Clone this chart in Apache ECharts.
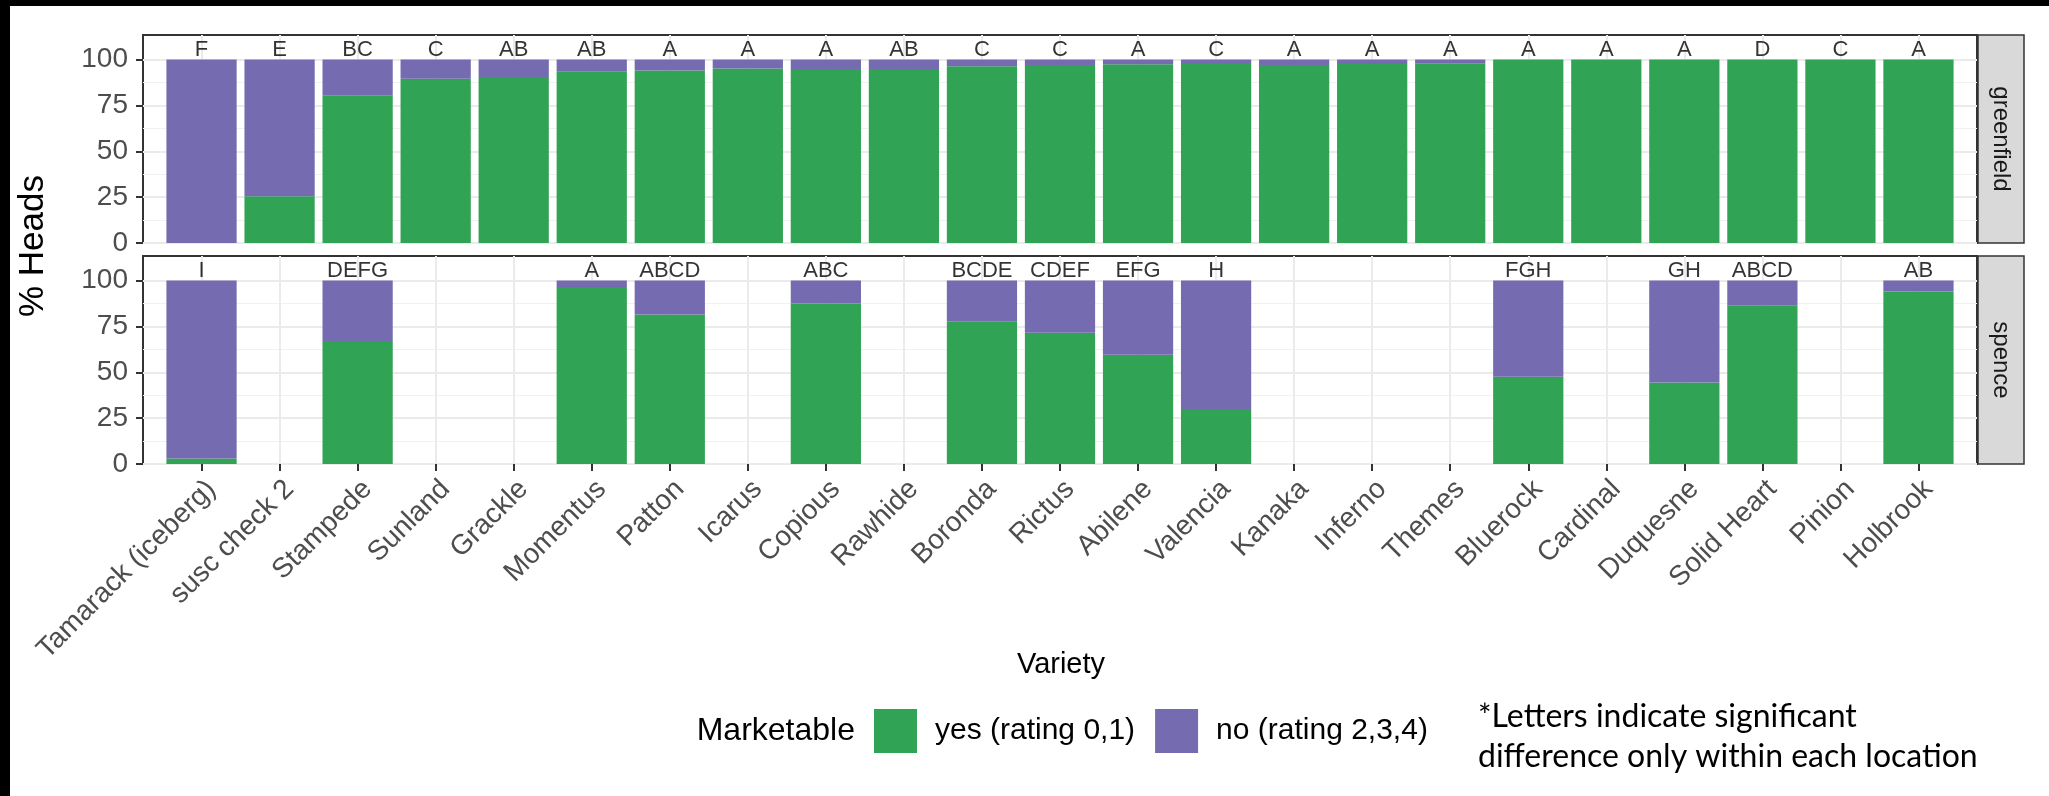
<!DOCTYPE html>
<html><head><meta charset="utf-8">
<script src="https://cdn.jsdelivr.net/npm/echarts@6/dist/echarts.min.js"></script>
<style>html,body{margin:0;padding:0;background:#fff}#c{width:2049px;height:796px}</style>
</head><body><div id="c"></div>
<script>
// ---- data ----
const varieties = ['Tamarack (iceberg)','susc check 2','Stampede','Sunland','Grackle','Momentus','Patton','Icarus','Copious','Rawhide','Boronda','Rictus','Abilene','Valencia','Kanaka','Inferno','Themes','Bluerock','Cardinal','Duquesne','Solid Heart','Pinion','Holbrook'];
const locations = ['greenfield','spence'];
const greenfieldYes = [0, 25.5, 80.5, 89.5, 90.5, 93.3, 94, 95.2, 94.9, 94.9, 96.3, 97, 97.4, 97.6, 97.1, 97.6, 98, 100, 100, 100, 100, 100, 100];
const greenfieldLetters = ['F','E','BC','C','AB','AB','A','A','A','AB','C','C','A','C','A','A','A','A','A','A','D','C','A'];
const spenceYes = [3, null, 67, null, null, 96.5, 81.5, null, 87.5, null, 77.5, 71.5, 59.5, 30, null, null, null, 47.5, null, 44.5, 86.5, null, 94];
const spenceLetters = ['I','','DEFG','','','A','ABCD','','ABC','','BCDE','CDEF','EFG','H','','','','FGH','','GH','ABCD','','AB'];
const yTicks = [0, 25, 50, 75, 100];
const yMinor = [12.5, 37.5, 62.5, 87.5];
const yesName = 'yes (rating 0,1)';
const noName = 'no (rating 2,3,4)';

// ---- layout / style ----
const GREEN = '#31A354', PURPLE = '#756BB1';
const FONT = 'Liberation Sans, Arial, Helvetica, sans-serif';
const panelLeft = 143, panelWidth = 1834, panelTops = [35, 256], panelH = 208;
const xMin = -0.75, xMax = 22.75, yMax = 113.4, labelY = 105, barFrac = 0.9;
const idx = varieties.map((_, i) => i);

const panels = [
  {yes: greenfieldYes, letters: greenfieldLetters},
  {yes: spenceYes, letters: spenceLetters}
];

const grid = panelTops.map(t => ({
  left: panelLeft, top: t, width: panelWidth, height: panelH,
  show: true, backgroundColor: '#fff', borderColor: '#333', borderWidth: 2, containLabel: false
}));

const xAxis = panelTops.map((_, g) => ({
  type: 'value', gridIndex: g, min: xMin, max: xMax, position: 'bottom',
  axisLine: {show: false, onZero: false},
  axisTick: {show: g === 1, customValues: idx, length: 7, lineStyle: {color: '#333', width: 2}},
  axisLabel: {show: g === 1, customValues: idx, rotate: 45, margin: 11,
    align: 'right', verticalAlign: 'top',
    formatter: v => varieties[Math.round(v)], fontSize: 28, color: '#4D4D4D', fontFamily: FONT},
  splitLine: {show: true, lineStyle: {color: '#EBEBEB', width: 2}}
}));

const yAxis = [];
panelTops.forEach((_, g) => {
  yAxis.push({
    type: 'value', gridIndex: g, min: 0, max: yMax, position: 'left',
    axisLine: {show: false, onZero: false},
    axisTick: {show: true, customValues: yTicks, length: 7, lineStyle: {color: '#333', width: 2}},
    axisLabel: {customValues: yTicks, fontSize: 28, color: '#4D4D4D', margin: 15, fontFamily: FONT},
    splitLine: {show: true, lineStyle: {color: '#EBEBEB', width: 2}}
  });
  yAxis.push({
    type: 'value', gridIndex: g, min: 0, max: yMax, position: 'right',
    axisLine: {show: false, onZero: false},
    axisTick: {show: false, customValues: yMinor},
    axisLabel: {show: false, customValues: yMinor},
    splitLine: {show: true, lineStyle: {color: '#F1F1F1', width: 1}}
  });
});

// stacked segment drawn through the axes' scales: value = [index, from, to]
function segment(color) {
  return (params, api) => {
    const x = api.value(0), lo = api.value(1), hi = api.value(2);
    if (!(hi > lo)) return null;
    const pLo = api.coord([x, lo]), pHi = api.coord([x, hi]);
    const w = api.size([barFrac, 0])[0];
    return {type: 'rect', shape: {x: pLo[0] - w / 2, y: pHi[1], width: w, height: pLo[1] - pHi[1]},
      style: {fill: color}};
  };
}

const series = [];
panels.forEach((p, g) => {
  const present = idx.filter(i => p.yes[i] != null);
  series.push({
    name: yesName, type: 'custom', xAxisIndex: g, yAxisIndex: 2 * g, silent: true,
    itemStyle: {color: GREEN}, renderItem: segment(GREEN), encode: {x: 0, y: [1, 2]},
    data: present.map(i => [i, 0, p.yes[i]])
  });
  series.push({
    name: noName, type: 'custom', xAxisIndex: g, yAxisIndex: 2 * g, silent: true,
    itemStyle: {color: PURPLE}, renderItem: segment(PURPLE), encode: {x: 0, y: [1, 2]},
    data: present.map(i => [i, p.yes[i], 100])
  });
  series.push({
    type: 'scatter', xAxisIndex: g, yAxisIndex: 2 * g, symbol: 'rect', symbolSize: 0.01, silent: true,
    itemStyle: {color: 'rgba(0,0,0,0)'}, z: 5,
    label: {show: true, position: 'inside', formatter: q => q.value[2],
      fontSize: 22, color: '#000', fontFamily: FONT},
    data: idx.filter(i => p.letters[i]).map(i => [i, labelY, p.letters[i]])
  });
});

const stripX = panelLeft + panelWidth + 1;
const graphic = [];
panelTops.forEach((t, g) => {
  graphic.push({type: 'rect', shape: {x: stripX, y: t, width: 46, height: panelH},
    style: {fill: '#D9D9D9', stroke: '#333', lineWidth: 1.5}});
  graphic.push({type: 'text', x: stripX + 23, y: t + panelH / 2, rotation: -Math.PI / 2,
    style: {text: locations[g], align: 'center', verticalAlign: 'middle', fontSize: 24, fill: '#1A1A1A', fontFamily: FONT}});
});
graphic.push({type: 'text', x: 33, y: 246, rotation: Math.PI / 2,
  style: {text: '% Heads', align: 'center', verticalAlign: 'middle', fontSize: 35, fill: '#000', fontFamily: FONT}});
graphic.push({type: 'text', x: 1061, y: 665,
  style: {text: 'Variety', align: 'center', verticalAlign: 'middle', fontSize: 29, fill: '#000', fontFamily: FONT}});
graphic.push({type: 'text', x: 855, y: 731,
  style: {text: 'Marketable', align: 'right', verticalAlign: 'middle', fontSize: 32, fill: '#000', fontFamily: FONT}});
graphic.push({type: 'text', x: 1478, y: 717,
  style: {text: '*Letters indicate significant', align: 'left', verticalAlign: 'middle', fontSize: 32, fill: '#000', fontFamily: 'Lato, Open Sans, sans-serif'}});
graphic.push({type: 'text', x: 1478, y: 757,
  style: {text: 'difference only within each location', align: 'left', verticalAlign: 'middle', fontSize: 32, fill: '#000', fontFamily: 'Lato, Open Sans, sans-serif'}});
// black frame bands of the photographed slide
graphic.push({type: 'rect', z: 100, shape: {x: 0, y: 0, width: 2049, height: 6}, style: {fill: '#000'}});
graphic.push({type: 'rect', z: 100, shape: {x: 0, y: 0, width: 10, height: 796}, style: {fill: '#000'}});

const chart = echarts.init(document.getElementById('c'), null, {renderer: 'canvas'});
chart.setOption({
  animation: false,
  backgroundColor: '#fff',
  grid, xAxis, yAxis, series, graphic,
  legend: {
    data: [yesName, noName], left: 874, top: 709, icon: 'rect', padding: 0,
    itemWidth: 43, itemHeight: 44, itemGap: 20,
    textStyle: {fontSize: 30, color: '#000', fontFamily: FONT, padding: [0, 0, 0, 13]}
  }
});
</script></body></html>
